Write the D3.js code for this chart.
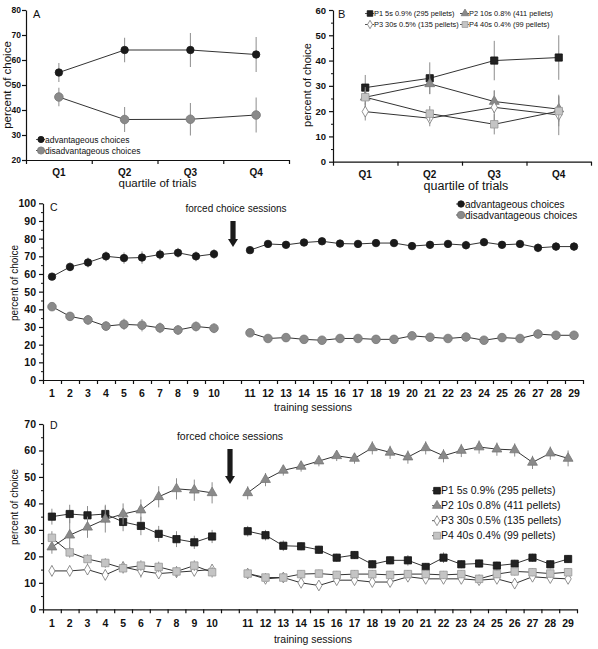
<!DOCTYPE html>
<html><head><meta charset="utf-8">
<script src="https://cdn.jsdelivr.net/npm/d3@7"></script>
<style>body{margin:0;background:#fff}svg{display:block;font-family:"Liberation Sans",Arial,sans-serif}</style>
</head><body><svg id="c" width="598" height="649"></svg>
<script>
// ---------- data ----------
const quartiles = ["Q1","Q2","Q3","Q4"];
const aAdv = [55, 64, 64, 62.2];
const aAdvErr = [3.8, 4.9, 6.8, 7];
const aDis = [45.2, 36.2, 36.3, 38];
const aDisErr = [3.7, 5, 6.5, 7];

const bP1 = [29.3, 33, 40, 41.2];
const bP1Err = [5, 6.3, 7.8, 8.8];
const bP2 = [25.5, 30.8, 23.8, 20.8];
const bP2Err = [4, 4, 4.5, 5];
const bP3 = [19.8, 17.2, 21.5, 18.5];
const bP3Err = [3.5, 3.2, 6.5, 8];
const bP4 = [25.5, 19, 14.8, 20];
const bP4Err = [3, 3, 4, 6];

const sessions = d3.range(1, 30);
const cAdv = [58.5,64,66.5,70,69,69.3,71,72,70,71.3,73.5,77,76.5,77.8,78.5,77.2,77,77.5,77.5,75.8,76.5,77,76.3,78,76.5,77,74.8,75.5,75.5];
const cAdvErr = [2,2.5,2.8,2.8,3.2,3.5,3,2.8,2.8,2.8,1.5,1.5,1.5,1.5,1.5,2,2,1.8,1.8,2,2.2,2,2.5,2,2,2,2.5,2.5,2.5];
const cDis = [41.5,36,34,30.5,31.5,31,29.5,28.3,30.3,29.3,26.7,23.5,24,23,22.5,23.5,23.5,23,23,25,24.2,23.5,24.3,22.5,24,23.5,26,25.3,25.3];
const cDisErr = [2,2.5,2.8,2.8,3.2,3.5,3,2.8,2.8,2.8,1.5,1.5,1.5,1.5,1.5,2,2,1.8,1.8,2,2.2,2,2.5,2,2,2,2.5,2.5,2.5];

const dP1 = [35,36,35.5,36,33,31.5,28.5,26.5,25.3,27.5,29.5,28,24,23.8,22.5,19.5,20.5,17,18.5,18.5,16,19.5,17,17.3,16.5,17.2,19.5,17,19];
const dP1Err = [3,3.5,3.5,3.5,3.5,3.5,3,3,2.5,2.5,2,2,2,1.5,1.5,1.5,1.5,1.5,1.5,2,1.5,2,1.5,1.5,1.5,1.5,1.5,1.5,1.5];
const dP2 = [23.5,28,31,34,36,37.5,42.5,45.5,45,44,44,49,52.5,54,56,58,57,61,59.3,57.5,61,58,60,61.3,60.5,60.2,55.5,59,57];
const dP2Err = [2.5,6,4,5,4,4,4,4,4,4,2.5,2.5,2,2,2,2,2,2.5,2.5,2.5,2.5,2.5,2.5,2.5,2.5,2.5,2.5,2.5,3];
const dP3 = [14.5,14.5,15,13,16,14.5,13.5,14,14.5,15,13.5,11.5,12,10,9,11,11,10.3,10.3,12.3,11.5,11.5,11.5,11,11.5,9.7,12.3,11.8,11.5];
const dP3Err = [2,2,2,2,2,2.5,2,2,2,2,1.5,1.5,1.5,1.5,1.5,1.5,1.5,1.5,1.5,1.5,1.5,1.5,1.5,1.5,1.5,1.5,1.5,1.5,1.5];
const dP4 = [27,21.5,19,17.5,15.5,16.5,16,14.3,16.5,14,13.5,12,12,13.3,13.5,13,13.3,13.3,13,13.3,13.3,13,13.3,11.5,13.3,14.3,14,13.5,14];
const dP4Err = [2.5,2,1.8,1.8,2,2,2,2,2,2,1.5,1.5,1.5,1.5,1.5,1.5,1.5,1.5,1.5,1.5,1.5,1.5,1.5,1.5,1.5,1.5,1.5,1.5,1.5];

const legendA = ["advantageous choices","disadvantageous choices"];
const legendP = ["P1 5s 0.9% (295 pellets)","P2 10s 0.8% (411 pellets)","P3 30s 0.5% (135 pellets)","P4 40s 0.4% (99 pellets)"];

// ---------- styles ----------
const styles = {
  adv: {shape: d3.symbolCircle, size: 44, fill: "#1a1a1a", stroke: "#1a1a1a"},
  dis: {shape: d3.symbolCircle, size: 58, fill: "#8a8a8a", stroke: "#777"},
  p1:  {shape: d3.symbolSquare, size: 52, fill: "#222", stroke: "#111"},
  p2:  {shape: d3.symbolTriangle, size: 42, fill: "#8a8a8a", stroke: "#777"},
  p3:  {shape: d3.symbolDiamond, size: 34, fill: "#fff", stroke: "#777"},
  p4:  {shape: d3.symbolSquare, size: 56, fill: "#c4c4c4", stroke: "#999"}
};
const svg = d3.select("#c");

function sessIndex(s){ return s <= 10 ? s - 1 : s; }

function drawYAxis(y, left, ticks, minor, fs, pad){
  const g = svg.append("g").attr("transform", `translate(${left},0)`);
  g.call(d3.axisLeft(y).tickValues(ticks).tickSize(4).tickSizeOuter(0).tickPadding(pad));
  g.selectAll("text").attr("font-size", fs).attr("font-weight", "bold").attr("fill", "#111");
  g.selectAll("path,line").attr("stroke", "#111").attr("stroke-width", 1.2);
  if (minor) {
    const m = svg.append("g").attr("transform", `translate(${left},0)`);
    m.call(d3.axisLeft(y).tickValues(minor).tickSize(2).tickFormat("").tickSizeOuter(0));
    m.select("path").remove();
    m.selectAll("line").attr("stroke", "#111");
  }
}
function drawXAxis(bounds, base, fs, labels, labelY, posFn){
  const x = d3.scaleLinear().domain([bounds[0], bounds[bounds.length-1]]).range([bounds[0], bounds[bounds.length-1]]);
  const g = svg.append("g").attr("transform", `translate(0,${base})`);
  g.call(d3.axisBottom(x).tickValues(bounds).tickSize(4).tickFormat("").tickSizeOuter(0));
  g.selectAll("path,line").attr("stroke", "#111").attr("stroke-width", 1.2);
  svg.append("g").selectAll("text").data(labels).join("text")
    .attr("x", (d,i) => posFn(d,i)).attr("y", labelY)
    .attr("text-anchor", "middle").attr("font-size", fs).attr("font-weight", "bold").attr("fill", "#111")
    .text(d => d);
}
function drawSeries(xs, ys, errs, y, st, segs, capW){
  const g = svg.append("g");
  xs.forEach((xv, i) => {
    const e = g.append("g").attr("stroke", "#8c8c8c").attr("stroke-width", 1);
    e.append("line").attr("x1", xv).attr("x2", xv).attr("y1", y(ys[i] - errs[i])).attr("y2", y(ys[i] + errs[i]));
    e.append("line").attr("x1", xv - capW).attr("x2", xv + capW).attr("y1", y(ys[i] + errs[i])).attr("y2", y(ys[i] + errs[i]));
    e.append("line").attr("x1", xv - capW).attr("x2", xv + capW).attr("y1", y(ys[i] - errs[i])).attr("y2", y(ys[i] - errs[i]));
  });
  const line = d3.line().x(d => d[0]).y(d => y(d[1]));
  segs.forEach(([a, b]) => {
    const pts = d3.range(a, b).map(i => [xs[i], ys[i]]);
    g.append("path").attr("d", line(pts)).attr("fill", "none").attr("stroke", "#333").attr("stroke-width", 1);
  });
  g.selectAll("path.m").data(ys).join("path").attr("class", "m")
    .attr("d", d3.symbol().type(st.shape).size(st.size))
    .attr("transform", (d, i) => `translate(${xs[i]},${y(d)})`)
    .attr("fill", st.fill).attr("stroke", st.stroke).attr("stroke-width", 0.8);
}
function legendItem(x, yy, st, label, fs, sc){
  const g = svg.append("g");
  g.append("line").attr("x1", x - 5).attr("x2", x + 4).attr("y1", yy).attr("y2", yy).attr("stroke", "#555").attr("stroke-width", 1);
  g.append("path").attr("d", d3.symbol().type(st.shape).size(st.size * sc)).attr("transform", `translate(${x},${yy})`)
    .attr("fill", st.fill).attr("stroke", st.stroke).attr("stroke-width", 0.8);
  g.append("text").attr("x", x + 4).attr("y", yy + fs * 0.36).attr("font-size", fs).attr("fill", "#111").text(label);
}
function text(x, y, s, fs, opts = {}){
  const t = svg.append("text").attr("x", x).attr("y", y).attr("font-size", fs).attr("fill", "#111").text(s);
  if (opts.anchor) t.attr("text-anchor", opts.anchor);
  if (opts.rotate) t.attr("transform", `rotate(-90,${x},${y})`);
  return t;
}
function arrow(x, y1, y2){
  const hw = 5, sw = 2.6, hh = 8;
  svg.append("path").attr("d", `M${x-sw},${y1} L${x+sw},${y1} L${x+sw},${y2-hh} L${x+hw},${y2-hh} L${x},${y2} L${x-hw},${y2-hh} L${x-sw},${y2-hh} Z`)
    .attr("fill", "#1a1a1a");
}

// ---------- Panel A ----------
{
  const left = 26, right = 289;
  const y = d3.scaleLinear().domain([20, 80]).range([160, 10]);
  const x = d3.scaleBand().domain(quartiles).range([left, right]);
  const xs = quartiles.map(q => x(q) + x.bandwidth() / 2);
  drawSeries(xs, aAdv, aAdvErr, y, styles.adv, [[0, 4]], 0);
  drawSeries(xs, aDis, aDisErr, y, styles.dis, [[0, 4]], 0);
  drawYAxis(y, left, d3.range(20, 81, 10), null, 8.5, 1);
  drawXAxis(d3.range(5).map(i => left + i * x.bandwidth()), 160, 10, quartiles, 176, (d, i) => xs[i]);
  text(33, 18, "A", 11);
  text(10.5, 85, "percent of choice", 11.5, {anchor: "middle", rotate: true});
  text(157.5, 187, "quartile of trials", 11.5, {anchor: "middle"});
  legendItem(41, 139.5, styles.adv, legendA[0], 8.5, 0.7);
  legendItem(41, 150.5, styles.dis, legendA[1], 8.5, 0.7);
}
// ---------- Panel B ----------
{
  const left = 333, right = 591;
  const y = d3.scaleLinear().domain([0, 60]).range([161.7, 10]);
  const x = d3.scaleBand().domain(quartiles).range([left, right]);
  const xs = quartiles.map(q => x(q) + x.bandwidth() / 2);
  drawSeries(xs, bP1, bP1Err, y, styles.p1, [[0, 4]], 0);
  drawSeries(xs, bP2, bP2Err, y, styles.p2, [[0, 4]], 0);
  drawSeries(xs, bP3, bP3Err, y, styles.p3, [[0, 4]], 0);
  drawSeries(xs, bP4, bP4Err, y, styles.p4, [[0, 4]], 0);
  drawYAxis(y, left, d3.range(0, 61, 10), d3.range(5, 60, 10), 9.5, 3);
  drawXAxis(d3.range(5).map(i => left + i * x.bandwidth()), 161.7, 10, quartiles, 178, (d, i) => xs[i]);
  text(338, 18, "B", 11);
  text(311, 85, "percent of choice", 11, {anchor: "middle", rotate: true});
  text(466, 190, "quartile of trials", 12.5, {anchor: "middle"});
  legendItem(370, 13.5, styles.p1, legendP[0], 7.4, 0.6);
  legendItem(465, 13.5, styles.p2, legendP[1], 7.4, 0.6);
  legendItem(370, 24.5, styles.p3, legendP[2], 7.4, 0.6);
  legendItem(465, 24.5, styles.p4, legendP[3], 7.4, 0.6);
}
// ---------- Panel C ----------
{
  const left = 43, right = 583;
  const y = d3.scaleLinear().domain([0, 100]).range([380, 203.3]);
  const x = d3.scaleBand().domain(d3.range(30)).range([left, right]);
  const xs = sessions.map(s => x(sessIndex(s)) + x.bandwidth() / 2);
  drawSeries(xs, cAdv, cAdvErr, y, styles.adv, [[0, 10], [10, 29]], 0);
  drawSeries(xs, cDis, cDisErr, y, styles.dis, [[0, 10], [10, 29]], 0);
  drawYAxis(y, left, d3.range(0, 101, 10), d3.range(5, 100, 10), 10.5, 3);
  drawXAxis(d3.range(31).map(i => left + i * x.bandwidth()), 380, 10.5, sessions, 397, (d, i) => xs[i]);
  text(50, 211, "C", 10.5);
  text(18, 283, "percent of choice", 10, {anchor: "middle", rotate: true});
  text(313, 411, "training sessions", 10.5, {anchor: "middle"});
  text(236, 212, "forced choice sessions", 10, {anchor: "middle"});
  arrow(233, 221, 247);
  legendItem(461, 204, styles.adv, legendA[0], 10, 0.75);
  legendItem(461, 215, styles.dis, legendA[1], 10, 0.75);
}
// ---------- Panel D ----------
{
  const left = 43, right = 577;
  const y = d3.scaleLinear().domain([0, 70]).range([609.3, 424]);
  const x = d3.scaleBand().domain(d3.range(30)).range([left, right]);
  const xs = sessions.map(s => x(sessIndex(s)) + x.bandwidth() / 2);
  drawSeries(xs, dP1, dP1Err, y, styles.p1, [[0, 10], [10, 29]], 0);
  drawSeries(xs, dP2, dP2Err, y, styles.p2, [[0, 10], [10, 29]], 0);
  drawSeries(xs, dP3, dP3Err, y, styles.p3, [[0, 10], [10, 29]], 0);
  drawSeries(xs, dP4, dP4Err, y, styles.p4, [[0, 10], [10, 29]], 0);
  drawYAxis(y, left, d3.range(0, 71, 10), d3.range(5, 70, 10), 10.5, 3);
  drawXAxis(d3.range(31).map(i => left + i * x.bandwidth()), 609.3, 10.5, sessions, 627, (d, i) => xs[i]);
  text(50, 429, "D", 10.5);
  text(18, 507, "percent of choice", 10, {anchor: "middle", rotate: true});
  text(313, 643, "training sessions", 10.5, {anchor: "middle"});
  text(230, 440, "forced choice sessions", 10.5, {anchor: "middle"});
  arrow(230, 449, 484);
  legendItem(437, 490.7, styles.p1, legendP[0], 10.5, 0.85);
  legendItem(437, 505.7, styles.p2, legendP[1], 10.5, 0.85);
  legendItem(437, 520.7, styles.p3, legendP[2], 10.5, 0.85);
  legendItem(437, 535.7, styles.p4, legendP[3], 10.5, 0.85);
}
</script></body></html>
